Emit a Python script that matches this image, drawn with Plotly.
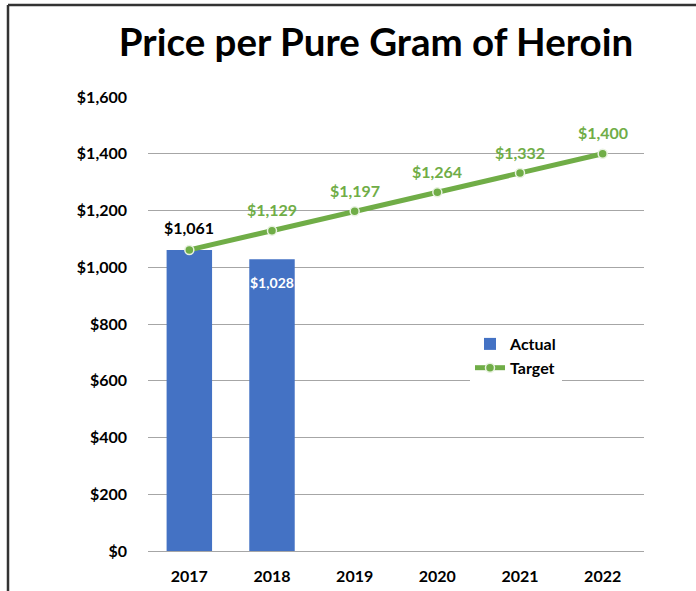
import plotly.graph_objects as go

years = ["2017", "2018", "2019", "2020", "2021", "2022"]
actual_years = ["2017", "2018"]
actual = [1061, 1028]
target = [1061, 1129, 1197, 1264, 1332, 1400]
y_ticks = [0, 200, 400, 600, 800, 1000, 1200, 1400, 1600]
y_tick_labels = ["$0", "$200", "$400", "$600", "$800", "$1,000", "$1,200", "$1,400", "$1,600"]

BLUE = "#4472C4"
GREEN = "#70AD47"
FONT = "Lato"

fig = go.Figure()
fig.add_trace(go.Bar(
    x=actual_years, y=actual, name="Actual",
    marker=dict(color=BLUE, line=dict(width=0)),
    width=0.55,
))
fig.add_trace(go.Scatter(
    x=years, y=target, name="Target", mode="lines+markers",
    line=dict(color=GREEN, width=5),
    marker=dict(color=GREEN, size=9, line=dict(color="#E8F2E0", width=1.5)),
))

# data labels (x given as category index)
annotations = []
for yr, v in zip(actual_years, actual):
    i = years.index(yr)
    if i == 0:
        annotations.append(dict(x=i, y=v, text=f"${v:,}", showarrow=False,
                                yshift=22, font=dict(family=FONT, size=16, color="black", weight="bold")))
    else:
        annotations.append(dict(x=i, y=v, text=f"${v:,}", showarrow=False,
                                yshift=-23, font=dict(family=FONT, size=14, color="white", weight="bold")))
for i, v in enumerate(target):
    if i == 0:
        continue
    annotations.append(dict(x=i, y=v, text=f"${v:,}", showarrow=False,
                            yshift=21, font=dict(family=FONT, size=16, color=GREEN, weight="bold")))

L, R, T, B = 148, 52, 97, 40
W, H = 696, 591
pw, ph = W - L - R, H - T - B

def px_x(p):
    return (p - L) / pw

def px_y(p):
    return (H - B - p) / ph

shapes = [
    dict(type="line", xref="paper", yref="paper", x0=px_x(8), x1=px_x(700), y0=px_y(5), y1=px_y(5),
         line=dict(color="#333333", width=2.5)),
    dict(type="line", xref="paper", yref="paper", x0=px_x(8), x1=px_x(8), y0=px_y(5), y1=px_y(595),
         line=dict(color="#333333", width=2.5)),
]

fig.update_layout(
    width=W, height=H,
    margin=dict(l=L, r=R, t=T, b=B, autoexpand=False),
    paper_bgcolor="white", plot_bgcolor="white",
    title=dict(text="Price per Pure Gram of Heroin", xref="container", x=376 / W, xanchor="center",
               yref="container", y=1 - 43 / H, yanchor="middle",
               font=dict(family=FONT, size=38.5, color="black", weight="bold")),
    xaxis=dict(type="category", categoryorder="array", categoryarray=years,
               range=[-0.5, 5.5], showgrid=False, showline=False, ticks="",
               automargin=False,
               tickfont=dict(family=FONT, size=16, color="black", weight="bold"),
               ticklabelstandoff=14),
    yaxis=dict(range=[0, 1600], tickvals=y_ticks, ticktext=y_tick_labels,
               showgrid=True, gridcolor="#A6A6A6", gridwidth=1,
               zeroline=True, zerolinecolor="#A6A6A6", zerolinewidth=1,
               showline=False, ticks="", automargin=False,
               tickfont=dict(family=FONT, size=16, color="black", weight="bold"),
               ticklabelstandoff=20),
    legend=dict(x=px_x(470), y=px_y(327), xanchor="left", yanchor="top",
                bgcolor="rgba(255,255,255,1)",
                font=dict(family=FONT, size=16, color="black", weight="bold"),
                itemwidth=30, tracegroupgap=0),
    bargap=0.45,
    annotations=annotations,
    shapes=shapes,
    showlegend=True,
)

fig.write_html("out.html", config={"displayModeBar": False},
               post_script="document.body.style.margin='0';")
